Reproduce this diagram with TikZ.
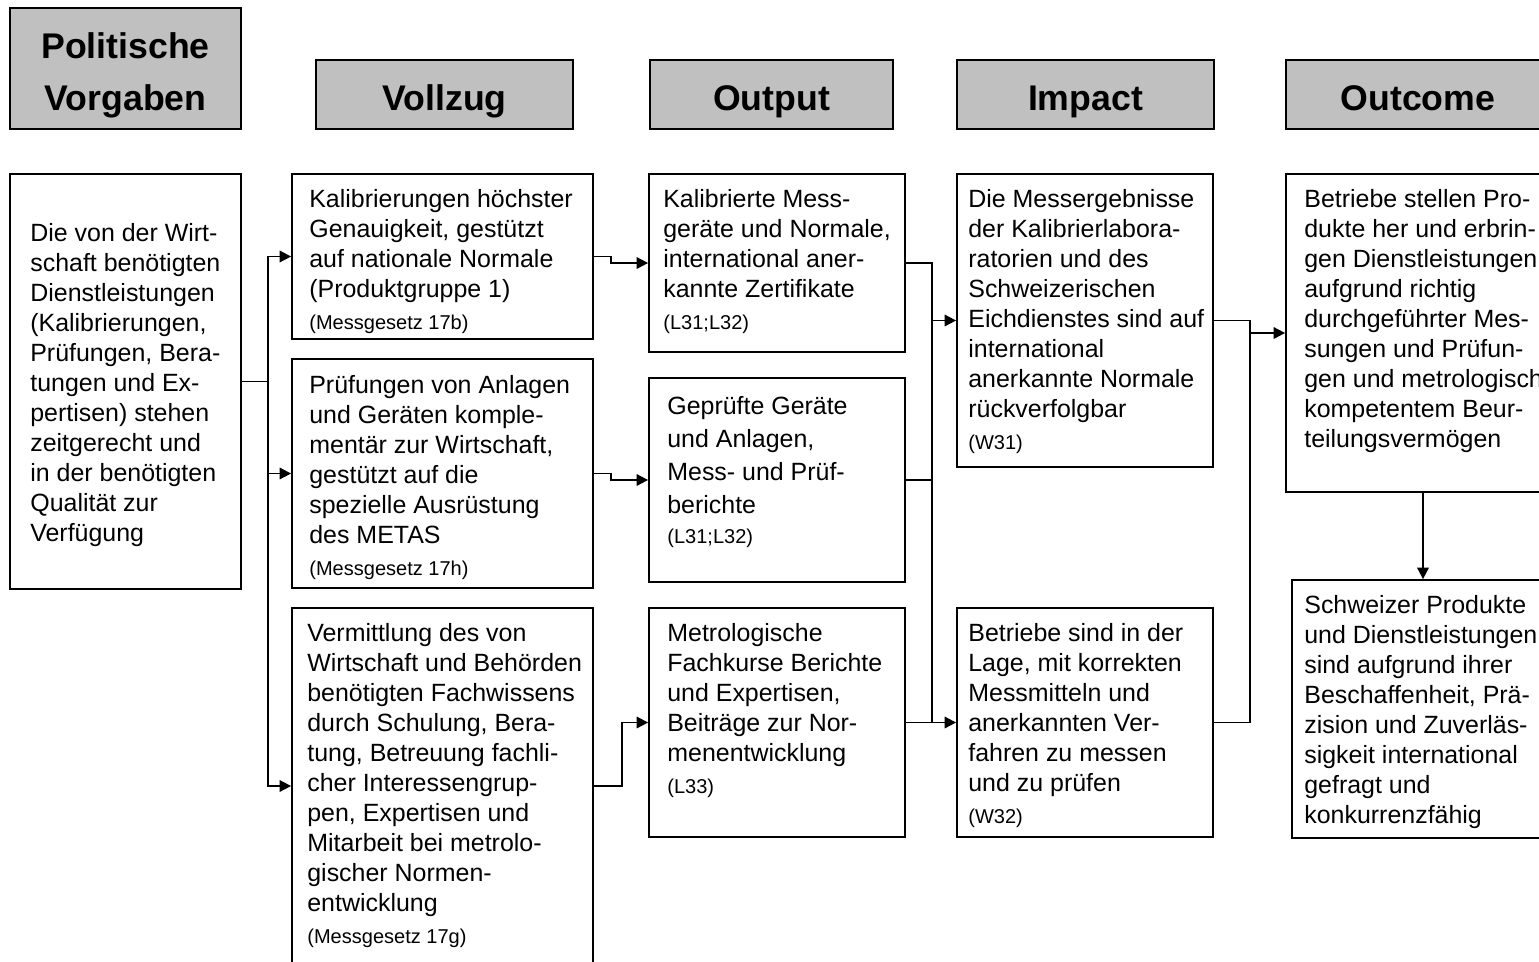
\documentclass[tikz,border=0pt]{standalone}
\usepackage{fontspec}
\setmainfont{Liberation Sans}
\usetikzlibrary{arrows.meta,fit,calc}

\definecolor{kopfgrau}{HTML}{C0C0C0}
\newcommand{\normalschrift}{\fontsize{14.2}{17.07}\selectfont}
\newcommand{\klein}{\fontsize{11.4}{13.7}\selectfont}

\tikzset{
  kopf/.style={draw, fill=kopfgrau, line width=1pt, inner sep=0pt},
  kopftxt/.style={inner sep=0pt, align=center, yshift=-4pt,
    font=\bfseries\fontsize{20.3}{29.6}\selectfont},
  kopfeins/.style={kopftxt, text height=14.6pt, text depth=4.3pt},
  kasten/.style={draw, line width=1pt, inner sep=0pt},
  txt/.style={anchor=north west, inner sep=0pt, align=left, font=\normalschrift},
  linie/.style={line width=1pt},
  pfeil/.style={line width=1pt, -{Triangle[length=6.5pt,width=6.5pt]}}
}

\begin{document}
\begin{tikzpicture}[x=0.02cm, y=-0.02cm]
    \useasboundingbox (0,0) rectangle (1539,961);

    % Kopfzeile
    \node[kopf, fit={(10,8) (241,129)}] (politik) {};
    \node[kopf, fit={(316,60) (573,129)}] (vollzug) {};
    \node[kopf, fit={(650,60) (893,129)}] (output) {};
    \node[kopf, fit={(957,60) (1214,129)}] (impact) {};
    \node[kopf, fit={(1286,60) (1550,129)}] (outcome) {};
    \node[kopftxt] (politikt) at (politik.center) {Politische\\Vorgaben};
    \node[kopfeins] (vollzugt) at (vollzug.center) {Vollzug};
    \node[kopfeins] (outputt) at (output.center) {Output};
    \node[kopfeins] (impactt) at (impact.center) {Impact};
    \node[kopfeins] (outcomet) at (outcome.center) {Outcome};

    % Kaesten
    \node[kasten, fit={(10,174) (241,589)}] (links) {};
    \node[kasten, fit={(292,174) (593,339)}] (v1) {};
    \node[kasten, fit={(292,359) (593,588)}] (v2) {};
    \node[kasten, fit={(292,608) (593,964)}] (v3) {};
    \node[kasten, fit={(649,174) (905,352)}] (o1) {};
    \node[kasten, fit={(649,378) (905,582)}] (o2) {};
    \node[kasten, fit={(649,608) (905,837)}] (o3) {};
    \node[kasten, fit={(957,174) (1213,467)}] (i1) {};
    \node[kasten, fit={(957,608) (1213,837)}] (i2) {};
    \node[kasten, fit={(1286,174) (1560,492)}] (c1) {};
    \node[kasten, fit={(1292,580) (1554,838)}] (c2) {};

    % Texte
    \node[txt] (linkst) at (30,223.5) {Die von der Wirt-\\schaft benötigten\\Dienstleistungen\\(Kalibrierungen,\\Prüfungen, Bera-\\tungen und Ex-\\pertisen) stehen\\zeitgerecht und\\in der benötigten\\Qualität zur\\Verfügung};
    \node[txt] (v1t) at (309,189.5) {Kalibrierungen höchster\\Genauigkeit, gestützt\\auf nationale Normale\\(Produktgruppe 1)\\[1pt]{\klein (Messgesetz 17b)}};
    \node[txt] (v2t) at (309,375.5) {Prüfungen von Anlagen\\und Geräten komple-\\mentär zur Wirtschaft,\\gestützt auf die\\spezielle Ausrüstung\\des METAS\\[1pt]{\klein (Messgesetz 17h)}};
    \node[txt] (v3t) at (307,623.5) {Vermittlung des von\\Wirtschaft und Behörden\\benötigten Fachwissens\\durch Schulung, Bera-\\tung, Betreuung fachli-\\cher Interessengrup-\\pen, Expertisen und\\Mitarbeit bei metrolo-\\gischer Normen-\\entwicklung\\[1pt]{\klein (Messgesetz 17g)}};
    \node[txt] (o1t) at (663,189.5) {Kalibrierte Mess-\\geräte und Normale,\\international aner-\\kannte Zertifikate\\[1pt]{\klein (L31;L32)}};
    \node[txt, font=\fontsize{14.2}{18.8}\selectfont] (o2t) at (667,396) {Geprüfte Geräte\\und Anlagen,\\Mess- und Prüf-\\berichte\\[-2pt]{\klein (L31;L32)}};
    \node[txt] (o3t) at (667,623.5) {Metrologische\\Fachkurse Berichte\\und Expertisen,\\Beiträge zur Nor-\\menentwicklung\\[1pt]{\klein (L33)}};
    \node[txt] (i1t) at (968,189.5) {Die Messergebnisse\\der Kalibrierlabora-\\ratorien und des\\Schweizerischen\\Eichdienstes sind auf\\international\\anerkannte Normale\\rückverfolgbar\\[1pt]{\klein (W31)}};
    \node[txt] (i2t) at (968,623.5) {Betriebe sind in der\\Lage, mit korrekten\\Messmitteln und\\anerkannten Ver-\\fahren zu messen\\und zu prüfen\\[1pt]{\klein (W32)}};
    \node[txt] (c1t) at (1304,189.5) {Betriebe stellen Pro-\\dukte her und erbrin-\\gen Dienstleistungen\\aufgrund richtig\\durchgeführter Mes-\\sungen und Prüfun-\\gen und metrologisch\\kompetentem Beur-\\teilungsvermögen};
    \node[txt] (c2t) at (1304,595.5) {Schweizer Produkte\\und Dienstleistungen\\sind aufgrund ihrer\\Beschaffenheit, Prä-\\zision und Zuverläs-\\sigkeit international\\gefragt und\\konkurrenzfähig};

    % Verbindungen
    \draw[linie] (links.east) -- ++(26,0) coordinate (bus1);
    \draw[pfeil] (bus1) |- (v1.west);
    \draw[pfeil] (bus1) |- (v2.west);
    \draw[pfeil] (bus1) |- (v3.west);

    \draw[pfeil] (v1.east) -- ++(17,0) |- (o1.west);
    \draw[pfeil] (v2.east) -- ++(17,0) |- (o2.west);
    \draw[pfeil] (v3.east) -- ++(28,0) |- (o3.west);

    \draw[linie] (o1.east) -- ++(26,0) coordinate (bus2) -- (bus2 |- o3.east);
    \draw[linie] (o2.east) -- (o2.east -| bus2);
    \draw[pfeil] (bus2 |- i1.west) -- (i1.west);
    \draw[pfeil] (o3.east) -- (i2.west);

    \draw[linie] (i1.east) -- ++(36,0) coordinate (bus3) -- (bus3 |- i2.east) -- (i2.east);
    \draw[pfeil] (bus3 |- c1.west) -- (c1.west);
    \draw[pfeil] (c1.south) -- (c2.north);
\end{tikzpicture}
\end{document}
